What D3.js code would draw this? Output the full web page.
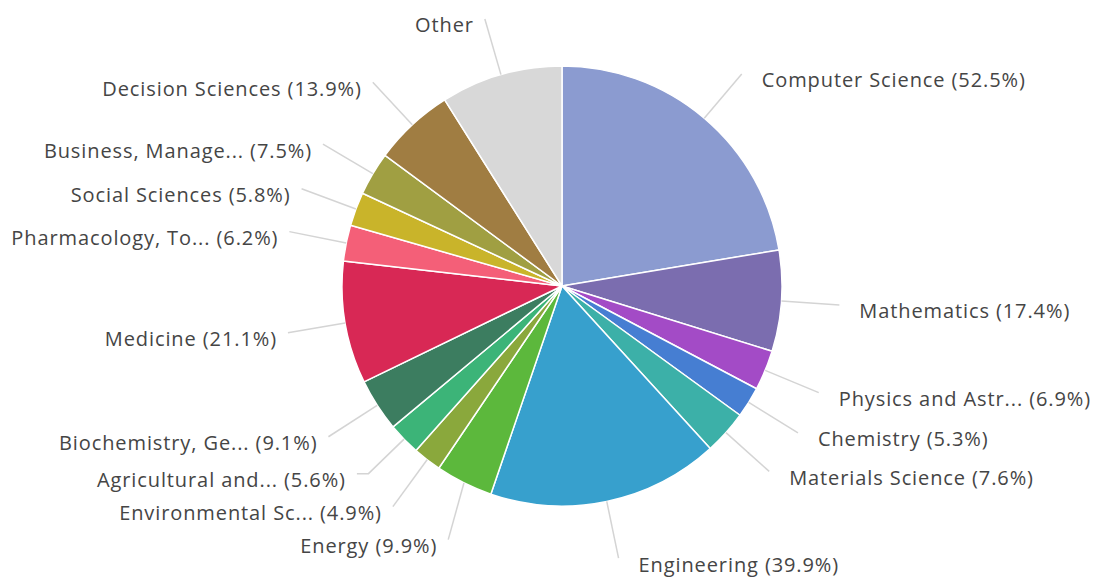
<!DOCTYPE html>
<html>
<head>
<meta charset="utf-8">
<script src="https://cdn.jsdelivr.net/npm/d3@7/dist/d3.min.js"></script>
<style>
  html, body { margin: 0; padding: 0; background: #ffffff; }
  svg { display: block; }
  text { font-family: "Open Sans", "Noto Sans", sans-serif; }
</style>
</head>
<body>
<svg id="chart" width="1098" height="577"></svg>
<script>
// ---- data ----
const categories = [
  "Computer Science", "Mathematics", "Physics and Astr...", "Chemistry",
  "Materials Science", "Engineering", "Energy", "Environmental Sc...",
  "Agricultural and...", "Biochemistry, Ge...", "Medicine", "Pharmacology, To...",
  "Social Sciences", "Business, Manage...", "Decision Sciences", "Other"
];
const values = [52.5, 17.4, 6.9, 5.3, 7.6, 39.9, 9.9, 4.9, 5.6, 9.1, 21.1, 6.2, 5.8, 7.5, 13.9, 21.0];
const showPercent = [true, true, true, true, true, true, true, true, true, true, true, true, true, true, true, false];
const colors = [
  "#8b9bd0", "#7b6daf", "#a34bc6", "#467ed2", "#3cb0a8", "#37a0cd", "#5cb83c", "#8aa83c",
  "#3cb478", "#3c7d60", "#d82855", "#f45f78", "#c9b42a", "#a09f42", "#a07d42", "#d8d8d8"
];

// ---- layout ----
const W = 1098, H = 577;
const cx = 562, cy = 286, r = 220;
const labelR = 278;      // radius of connector ends
const minGap = 33;       // minimum vertical spacing between labels
const fmt = d3.format(".1f");

const svg = d3.select("#chart");
const g = svg.append("g").attr("transform", `translate(${cx},${cy})`);

const rows = categories.map((c, i) => ({ name: c, value: values[i], color: colors[i], pct: showPercent[i] }));
const pie = d3.pie().sort(null).value(d => d.value).startAngle(0).endAngle(2 * Math.PI);
const arcs = pie(rows);
const arc = d3.arc().innerRadius(0).outerRadius(r);

g.selectAll("path.slice")
  .data(arcs)
  .enter().append("path")
  .attr("class", "slice")
  .attr("d", arc)
  .attr("fill", d => d.data.color)
  .attr("stroke", "#ffffff")
  .attr("stroke-width", 1.5)
  .attr("stroke-linejoin", "round");

// ---- label positioning (natural position + simple vertical distribution) ----
const items = arcs.map(a => {
  const mid = (a.startAngle + a.endAngle) / 2;
  return {
    a, mid,
    right: mid < Math.PI,
    natY: -labelR * Math.cos(mid),
    y: -labelR * Math.cos(mid)
  };
});

function distribute(list) {
  list.sort((p, q) => p.natY - q.natY);
  let clusters = list.map(it => ({ items: [it] }));
  const place = c => {
    const n = c.items.length;
    const mean = d3.mean(c.items, it => it.natY);
    const start = mean - (n - 1) * minGap / 2;
    c.items.forEach((it, k) => { it.y = start + k * minGap; });
  };
  clusters.forEach(place);
  let changed = true;
  while (changed) {
    changed = false;
    for (let i = 0; i < clusters.length - 1; i++) {
      const A = clusters[i], B = clusters[i + 1];
      const aEnd = A.items[A.items.length - 1].y;
      const bStart = B.items[0].y;
      if (bStart - aEnd < minGap) {
        const M = { items: A.items.concat(B.items) };
        place(M);
        clusters.splice(i, 2, M);
        changed = true;
        break;
      }
    }
  }
}
distribute(items.filter(d => d.right));
distribute(items.filter(d => !d.right));

items.forEach(it => {
  const dy = Math.max(-labelR, Math.min(labelR, it.y));
  const dx = Math.sqrt(labelR * labelR - dy * dy);
  it.x = it.right ? dx : -dx;
});

// connectors
const lineGen = d3.line();
g.selectAll("path.connector")
  .data(items)
  .enter().append("path")
  .attr("class", "connector")
  .attr("fill", "none")
  .attr("stroke", "#d4d4d4")
  .attr("stroke-width", 1.5)
  .attr("d", it => {
    const sx = Math.sin(it.mid), sy = -Math.cos(it.mid);
    const touch = [r * sx, r * sy];
    const pts = [touch];
    if (Math.abs(it.y - it.natY) > 1 && Math.abs(sy) > 0.05) {
      const t = it.y / sy;
      if (t > r && t < labelR) {
        const bx = t * sx;
        const between = it.right ? (bx > touch[0] && bx < it.x) : (bx < touch[0] && bx > it.x);
        if (between) pts.push([bx, it.y]);
      }
    }
    pts.push([it.x, it.y]);
    return lineGen(pts);
  });

// labels
g.selectAll("text.label")
  .data(items)
  .enter().append("text")
  .attr("class", "label")
  .attr("x", it => it.right ? it.x + 20 : it.x - 11)
  .attr("y", it => it.y + 6)
  .attr("dominant-baseline", "central")
  .attr("text-anchor", it => it.right ? "start" : "end")
  .attr("font-size", "20px")
  .attr("letter-spacing", "0.9px")
  .attr("fill", "#454545")
  .text(it => it.a.data.pct ? `${it.a.data.name} (${fmt(it.a.data.value)}%)` : it.a.data.name);
</script>
</body>
</html>
